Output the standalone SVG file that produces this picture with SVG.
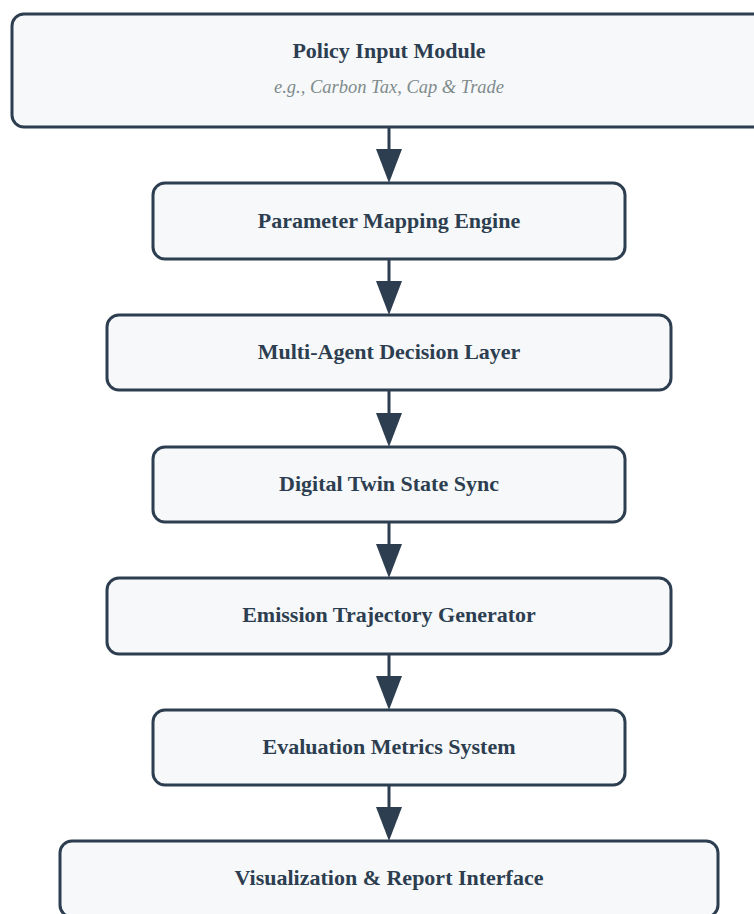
<svg xmlns="http://www.w3.org/2000/svg" width="754" height="914" viewBox="0 0 754 914">
<style>
.box{fill:#f7f8fa;stroke:#2c3e50;stroke-width:3}
.t{font-weight:bold;font-size:22px;fill:#2c3e50;text-anchor:middle}
.s{font-style:italic;font-size:18.5px;fill:#7f8c8d;text-anchor:middle}
.c{stroke:#2c3e50;stroke-width:3;fill:none}
</style>
<defs>
<marker id="ah" markerUnits="userSpaceOnUse" markerWidth="34" markerHeight="26" refX="0" refY="13" orient="auto" viewBox="0 0 34 26">
<path d="M0,0 L34,13 L0,26 z" fill="#2c3e50"/>
</marker>
</defs>
<rect width="754" height="914" fill="#ffffff"/>
<g id="connectors">
<line class="c" x1="389" y1="127" x2="389" y2="149" marker-end="url(#ah)"/>
<line class="c" x1="389" y1="259" x2="389" y2="281" marker-end="url(#ah)"/>
<line class="c" x1="389" y1="390" x2="389" y2="413" marker-end="url(#ah)"/>
<line class="c" x1="389" y1="522" x2="389" y2="544" marker-end="url(#ah)"/>
<line class="c" x1="389" y1="654" x2="389" y2="676" marker-end="url(#ah)"/>
<line class="c" x1="389" y1="785" x2="389" y2="807" marker-end="url(#ah)"/>
</g>
<g font-family="'Liberation Serif', 'Times New Roman', serif">
<g id="n1"><rect class="box" x="12" y="14" width="754" height="113" rx="12"/>
<text class="t" x="389" y="58">Policy Input Module</text>
<text class="s" x="389" y="93">e.g., Carbon Tax, Cap &amp; Trade</text></g>
<g id="n2"><rect class="box" x="153" y="183" width="472" height="76" rx="12"/>
<text class="t" x="389" y="228">Parameter Mapping Engine</text></g>
<g id="n3"><rect class="box" x="107" y="315" width="564" height="75" rx="12"/>
<text class="t" x="389" y="359">Multi-Agent Decision Layer</text></g>
<g id="n4"><rect class="box" x="153" y="447" width="472" height="75" rx="12"/>
<text class="t" x="389" y="491">Digital Twin State Sync</text></g>
<g id="n5"><rect class="box" x="107" y="578" width="564" height="76" rx="12"/>
<text class="t" x="389" y="622">Emission Trajectory Generator</text></g>
<g id="n6"><rect class="box" x="153" y="710" width="472" height="75" rx="12"/>
<text class="t" x="389" y="754">Evaluation Metrics System</text></g>
<g id="n7"><rect class="box" x="60" y="841" width="658" height="76" rx="12"/>
<text class="t" x="389" y="885">Visualization &amp; Report Interface</text></g>
</g>
</svg>
